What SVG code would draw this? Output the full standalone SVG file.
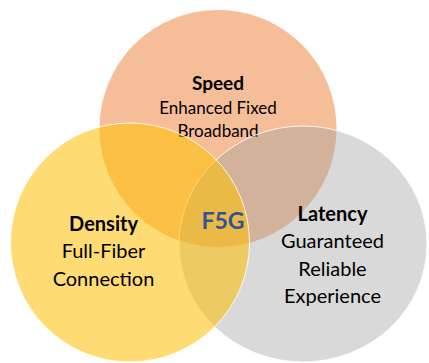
<svg xmlns="http://www.w3.org/2000/svg" width="429" height="363" viewBox="0 0 429 363">
<style>
.c{stroke:#ffffff;stroke-width:1;stroke-opacity:0.85}
.t{font-family:Lato,"Liberation Sans",sans-serif;fill:#000;text-anchor:middle}
.b{font-weight:bold}
</style>
<rect width="429" height="363" fill="#ffffff"/>
<g id="speed">
<circle class="c" cx="218" cy="128.5" r="119" fill="#ED7D31" fill-opacity="0.5"/>
<text class="t b" x="218" y="90" font-size="19">Speed</text>
<text class="t" x="218" y="114" font-size="17">Enhanced Fixed</text>
<text class="t" x="218" y="137" font-size="17">Broadband</text>
</g>
<g id="latency">
<ellipse class="c" cx="303" cy="244" rx="124" ry="118" fill="#A0A0A0" fill-opacity="0.4"/>
<text class="t b" x="332.5" y="221" font-size="20">Latency</text>
<text class="t" x="332.5" y="248" font-size="20">Guaranteed</text>
<text class="t" x="332.5" y="276" font-size="20">Reliable</text>
<text class="t" x="332.5" y="303" font-size="20">Experience</text>
</g>
<g id="density">
<circle class="c" cx="130" cy="242.5" r="119.5" fill="#FFC000" fill-opacity="0.55"/>
<text class="t b" x="103.5" y="231" font-size="20">Density</text>
<text class="t" x="103.5" y="258" font-size="20">Full-Fiber</text>
<text class="t" x="103.5" y="286" font-size="20">Connection</text>
</g>
<g id="f5g">
<text class="t b" x="223" y="229" font-size="23" style="fill:#2F5597">F5G</text>
</g>
</svg>
